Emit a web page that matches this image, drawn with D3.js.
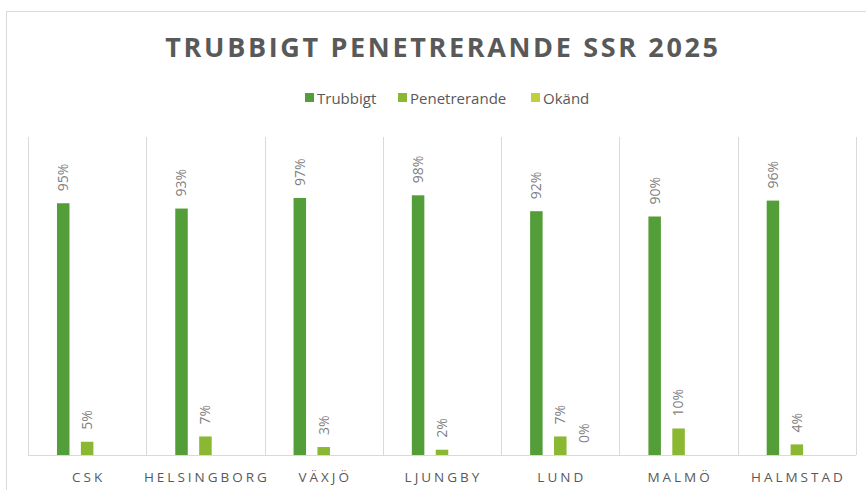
<!DOCTYPE html>
<html><head><meta charset="utf-8">
<script src="https://cdn.jsdelivr.net/npm/d3@7"></script>
<style>body{margin:0;background:#fff;} svg{display:block;}</style>
</head><body>
<svg id="chart" width="866" height="490"></svg>
<script>
const categories = ["CSK","HELSINGBORG","VÄXJÖ","LJUNGBY","LUND","MALMÖ","HALMSTAD"];
const seriesNames = ["Trubbigt","Penetrerande","Okänd"];
const trubbigt = [0.95,0.93,0.97,0.98,0.92,0.90,0.96];
const penetrerande = [0.05,0.07,0.03,0.02,0.07,0.10,0.04];
const okand = [null,null,null,null,0,null,null];
const colors = ["#549E39","#8AB833","#C0CF3A"];
const title = "TRUBBIGT PENETRERANDE SSR 2025";

const seriesValues = [trubbigt, penetrerande, okand];
const svg = d3.select("#chart");
const font = "'Open Sans', sans-serif";

// outer chart border
svg.append("rect").attr("x",6.5).attr("y",11.5).attr("width",900).attr("height",520)
  .attr("fill","#fff").attr("stroke","#d9d9d9").attr("stroke-width",1);

const plot = {left:28, right:856, top:137, bottom:455};

const x = d3.scaleBand().domain(categories).range([plot.left, plot.right]).padding(0);
const w = x.bandwidth();
const xs = d3.scaleBand().domain(seriesNames).range([w*0.245, w - w*0.245]).paddingInner(0.477);
const y = d3.scaleLinear().domain([0,1.2]).range([plot.bottom, plot.top]);

// category separators
const seps = d3.range(categories.length+1).map(i => plot.left + i*w);
svg.append("g").selectAll("line").data(seps).join("line")
  .attr("x1",d=>Math.round(d)+0.5).attr("x2",d=>Math.round(d)+0.5)
  .attr("y1",plot.top).attr("y2",plot.bottom)
  .attr("stroke","#d9d9d9").attr("stroke-width",1);

// bars
const data = [];
categories.forEach((c,i)=>{
  seriesNames.forEach((s,j)=>{
    data.push({cat:c, series:s, value:seriesValues[j][i], color:colors[j]});
  });
});
const bars = svg.append("g");
bars.selectAll("rect").data(data.filter(d=>d.value!==null && d.value>0)).join("rect")
  .attr("x",d=>x(d.cat)+xs(d.series))
  .attr("width",xs.bandwidth())
  .attr("y",d=>y(d.value))
  .attr("height",d=>y(0)-y(d.value))
  .attr("fill",d=>d.color);

// baseline
svg.append("line").attr("x1",plot.left).attr("x2",plot.right)
  .attr("y1",plot.bottom+0.5).attr("y2",plot.bottom+0.5)
  .attr("stroke","#d9d9d9").attr("stroke-width",1);

// data labels
svg.append("g").selectAll("text").data(data.filter(d=>d.value!==null)).join("text")
  .attr("transform",d=>{
    const cx = x(d.cat)+xs(d.series)+xs.bandwidth()/2;
    const ty = y(d.value)-12;
    return `translate(${cx},${ty}) rotate(-90)`;
  })
  .attr("dy","0.35em")
  .attr("text-anchor","start")
  .attr("font-family",font).attr("font-size",14).attr("fill","#7f7f7f")
  .text(d=>d3.format(".0%")(d.value));

// x axis labels
svg.append("g").selectAll("text").data(categories).join("text")
  .attr("x",d=>x(d)+w/2+1.5).attr("y",482)
  .attr("text-anchor","middle")
  .attr("font-family",font).attr("font-size",13.5).attr("letter-spacing","3px")
  .attr("fill","#595959")
  .text(d=>d);

// title
svg.append("text").attr("x",443).attr("y",57).attr("text-anchor","middle")
  .attr("font-family",font).attr("font-weight","bold").attr("font-size",27)
  .attr("letter-spacing","2.65px").attr("fill","#595959").text(title);

// legend
const legendItems = [{name:"Trubbigt",x:305},{name:"Penetrerande",x:398},{name:"Okänd",x:531}];
const lg = svg.append("g");
legendItems.forEach((it,i)=>{
  lg.append("rect").attr("x",it.x).attr("y",93).attr("width",9).attr("height",9).attr("fill",colors[i]);
  lg.append("text").attr("x",it.x+12).attr("y",103.5)
    .attr("font-family",font).attr("font-size",15).attr("fill","#595959").text(it.name);
});
</script>
</body></html>
